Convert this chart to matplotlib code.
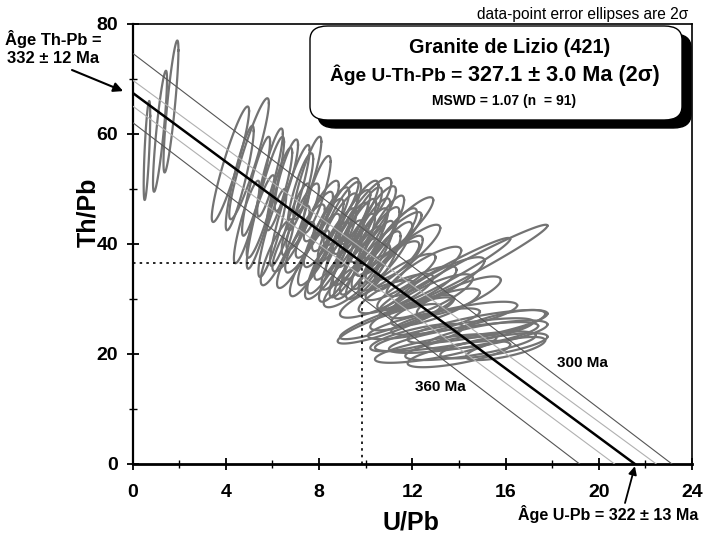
import numpy as np
import matplotlib
matplotlib.use("Agg")
import matplotlib.pyplot as plt
from matplotlib.patches import FancyBboxPatch

plt.rcParams['font.family'] = ['Liberation Sans', 'DejaVu Sans']

# Ellipses d'erreur (2 sigma) : centre U/Pb, centre Th/Pb, demi-largeur, demi-hauteur, correlation
ell_x = [0.62, 1.18, 1.65,
         4.2, 4.6, 5.0, 5.3, 5.7, 5.9, 6.3, 6.75, 6.6, 7.2, 7.5, 7.9, 4.9, 6.0,
         5.5, 7.0, 6.2,
         7.4, 7.8, 8.0, 8.2, 8.4, 8.5, 8.7, 8.8, 9.0, 9.0, 9.2, 9.3, 9.4, 9.5,
         9.6, 9.8, 9.9, 10.0, 10.2, 10.3, 10.5, 10.6, 10.8, 7.0, 7.6, 8.3, 8.9,
         9.6, 10.1, 11.0, 11.2, 8.1, 8.9, 9.7, 10.4, 7.3, 6.8, 11.4, 10.0, 11.6, 9.4,
         11.0, 11.5, 11.8, 12.2, 12.5, 11.3, 12.8, 13.2, 14.2, 13.4, 11.0, 10.5,
         13.0, 14.0, 12.0,
         13.8, 14.2, 14.8, 13.0, 14.5, 15.2, 15.5, 12.5, 13.8, 14.0, 11.0, 11.3,
         12.2, 15.8, 16.0]
ell_y = [57.0, 60.5, 65.0,
         54.5, 52.0, 55.5, 50.5, 47.5, 53.0, 50.0, 47.0, 52.5, 49.5, 52.0, 49.0, 44.0, 42.0,
         45.0, 44.5, 38.5,
         41.0, 43.5, 39.0, 42.0, 37.5, 44.5, 40.0, 43.0, 38.0, 45.5, 41.0, 36.5, 44.0, 39.0,
         42.0, 37.0, 44.5, 40.0, 42.5, 38.0, 40.5, 36.5, 43.0, 38.0, 36.5, 35.5, 35.0,
         35.5, 35.0, 38.5, 41.0, 46.0, 46.5, 46.0, 45.0, 45.0, 41.0, 36.5, 46.0, 43.0, 33.0,
         36.0, 34.0, 38.5, 32.0, 35.0, 31.0, 30.5, 33.0, 35.3, 34.5, 40.0, 30.0,
         28.5, 30.5, 27.5,
         23.5, 23.0, 25.0, 21.0, 21.5, 23.5, 21.5, 25.5, 26.5, 20.0, 25.5, 26.5,
         23.0, 25.5, 21.0]
ell_sx = [0.14, 0.30, 0.32,
          0.80, 0.60, 0.85, 0.60, 0.80, 0.55, 0.55, 0.85, 0.50, 0.55, 0.60, 0.60, 0.55, 0.60,
          0.60, 0.60, 0.70,
          0.85, 0.80, 0.90, 0.85, 0.90, 0.80, 0.90, 0.85, 0.90, 0.80, 0.90, 0.85, 0.80, 0.90,
          0.85, 0.90, 0.80, 0.95, 0.85, 0.90, 0.95, 0.90, 0.85, 0.80, 0.85, 0.90, 0.90,
          0.95, 0.95, 1.00, 1.00, 0.75, 0.80, 0.85, 0.90, 0.70, 0.80, 1.05, 1.10, 1.30, 1.20,
          1.30, 1.50, 1.40, 1.70, 1.60, 1.60, 1.80, 1.90, 3.60, 2.80, 1.40, 1.60,
          1.90, 1.80, 1.80,
          3.40, 3.20, 3.00, 2.60, 2.80, 2.60, 2.30, 2.40, 2.70, 2.20, 2.20, 2.40,
          2.00, 1.90, 1.70]
ell_sy = [9.0, 11.0, 12.0,
          10.5, 9.5, 11.0, 9.0, 12.0, 8.0, 7.5, 11.0, 6.5, 7.0, 7.5, 7.0, 7.5, 8.0,
          7.5, 6.5, 6.0,
          6.2, 6.0, 6.5, 6.2, 6.5, 5.8, 6.5, 6.2, 6.3, 5.8, 6.5, 6.2, 5.8, 6.5,
          6.2, 6.2, 5.8, 6.5, 5.8, 6.2, 6.2, 5.8, 5.8, 6.0, 6.0, 5.5, 5.5,
          5.5, 5.0, 5.5, 5.5, 5.5, 5.5, 5.5, 5.5, 6.0, 6.0, 5.0, 6.0, 5.5, 4.5,
          4.5, 4.2, 5.0, 4.0, 4.5, 3.6, 4.0, 4.6, 8.2, 6.6, 5.8, 3.4,
          3.4, 3.6, 3.2,
          3.0, 2.8, 3.0, 2.6, 2.6, 2.6, 2.3, 2.8, 3.0, 2.4, 3.6, 3.8,
          2.5, 2.5, 2.1]
ell_rho = [0.70, 0.85, 0.85,
           0.92, 0.90, 0.92, 0.90, 0.92, 0.88, 0.88, 0.92, 0.85, 0.85, 0.88, 0.85, 0.88, 0.88,
           0.88, 0.86, 0.85,
           0.86, 0.86, 0.87, 0.86, 0.87, 0.85, 0.87, 0.86, 0.86, 0.85, 0.87, 0.86, 0.85, 0.87,
           0.86, 0.86, 0.85, 0.87, 0.85, 0.86, 0.86, 0.85, 0.86, 0.86, 0.86, 0.85, 0.85,
           0.85, 0.84, 0.86, 0.86, 0.85, 0.85, 0.85, 0.86, 0.86, 0.86, 0.85, 0.86, 0.90, 0.82,
           0.85, 0.85, 0.88, 0.82, 0.85, 0.80, 0.82, 0.86, 0.98, 0.97, 0.90, 0.80,
           0.80, 0.82, 0.80,
           0.78, 0.75, 0.78, 0.75, 0.72, 0.72, 0.72, 0.78, 0.78, 0.70, 0.88, 0.90,
           0.75, 0.72, 0.70]

# Droites d'age : intercept Th/Pb (U/Pb = 0) et intercept U/Pb (Th/Pb = 0)
age_line_thpb = 67.5
age_line_upb = 21.55
iso_300_ma = (74.7, 23.14)
iso_360_ma = (62.1, 19.18)
env_haut = (69.8, 22.47)
env_bas = (65.1, 20.68)

# Point moyen sur la droite
centroid_upb = 9.86
centroid_thpb = 36.6

fig = plt.figure(figsize=(7.09, 5.45), dpi=100)
ax = fig.add_axes([132.5 / 709, 1 - 464 / 545, (692 - 132.5) / 709, (464 - 24) / 545])

t = np.linspace(0, 2 * np.pi, 120)
for cx, cy, sx, sy, r in zip(ell_x, ell_y, ell_sx, ell_sy, ell_rho):
    ex = cx + sx * np.cos(t)
    ey = cy + sy * (r * np.cos(t) + np.sqrt(1 - r ** 2) * np.sin(t))
    ax.plot(ex, ey, color='#737373', lw=1.6, zorder=2)

def droite(inter, col, lw):
    ax.plot([0, inter[1]], [inter[0], 0], color=col, lw=lw, zorder=3)

droite(iso_300_ma, '#555555', 0.8)
droite(iso_360_ma, '#555555', 0.8)
droite(env_haut, '#b0b0b0', 0.8)
droite(env_bas, '#b0b0b0', 0.8)
droite((age_line_thpb, age_line_upb), 'black', 1.8)

ax.plot([0, centroid_upb], [centroid_thpb, centroid_thpb], color='black', lw=1.2,
        ls=(0, (1.5, 2.5)), zorder=3)
ax.plot([centroid_upb, centroid_upb], [0, centroid_thpb], color='black', lw=1.2,
        ls=(0, (1.5, 2.5)), zorder=3)

ax.text(19.3, 18.4, '300 Ma', fontsize=11, fontweight='bold', ha='center', va='center')
ax.text(13.2, 14.0, '360 Ma', fontsize=11, fontweight='bold', ha='center', va='center')

ax.set_xlim(0, 24)
ax.set_ylim(0, 80)
ax.set_xticks(np.arange(0, 25, 4))
ax.set_xticks(np.arange(0, 25, 2), minor=True)
ax.set_yticks(np.arange(0, 81, 20))
ax.set_yticks(np.arange(0, 81, 10), minor=True)
ax.tick_params(which='major', direction='inout', length=9, width=1.3, labelsize=14, pad=6)
ax.tick_params(axis='x', which='major', pad=10)
ax.tick_params(which='minor', direction='inout', length=6, width=1.0)
for lab in ax.get_xticklabels() + ax.get_yticklabels():
    lab.set_fontweight('bold')
for s in ax.spines.values():
    s.set_linewidth(1.2)
ax.spines['bottom'].set_linewidth(2.0)
ax.spines['left'].set_linewidth(1.6)

ax.set_xlabel('U/Pb', fontsize=18, fontweight='bold')
ax.set_ylabel('Th/Pb', fontsize=18, fontweight='bold')
ax.xaxis.set_label_coords(0.497, -0.105)
ax.yaxis.set_label_coords(-0.058, 0.573)

# Cartouche avec ombre
def fx(px):
    return px / 709

def fy(py):
    return 1 - py / 545

shadow = FancyBboxPatch((fx(318), fy(128)), fx(691) - fx(318), fy(34) - fy(128),
                        boxstyle='round,pad=0,rounding_size=0.025', transform=fig.transFigure,
                        facecolor='black', edgecolor='black', zorder=5)
box = FancyBboxPatch((fx(310), fy(120)), fx(682) - fx(310), fy(26) - fy(120),
                     boxstyle='round,pad=0,rounding_size=0.025', transform=fig.transFigure,
                     facecolor='white', edgecolor='black', lw=1.0, zorder=6)
fig.patches.extend([shadow, box])

fig.text(fx(510), fy(47), 'Granite de Lizio (421)', fontsize=14.3, fontweight='bold',
         ha='center', va='center', zorder=7)
fig.text(fx(468), fy(75), 'Âge U-Th-Pb = ', fontsize=13.8, fontweight='bold',
         ha='right', va='center', zorder=7)
fig.text(fx(468), fy(75), '327.1 ± 3.0 Ma (2σ)', fontsize=15.6, fontweight='bold',
         ha='left', va='center', zorder=7)
fig.text(fx(504), fy(101), 'MSWD = 1.07 (n  = 91)', fontsize=10, fontweight='bold',
         ha='center', va='center', zorder=7)

fig.text(fx(688), fy(14), 'data-point error ellipses are 2σ', fontsize=11.2,
         ha='right', va='center')

# Intercepts annotes
fig.text(fx(53), fy(48), 'Âge Th-Pb =\n332 ± 12 Ma', fontsize=11.9, fontweight='bold',
         ha='center', va='center', linespacing=1.25)
ax.annotate('', xy=(-0.4, 67.8), xycoords='data',
            xytext=(fx(72), fy(70)), textcoords='figure fraction',
            arrowprops=dict(arrowstyle='-|>', color='black', lw=1.5,
                            shrinkA=0, shrinkB=0, mutation_scale=14),
            annotation_clip=False)
ax.annotate('', xy=(age_line_upb, -0.4), xycoords='data',
            xytext=(fx(625), fy(503)), textcoords='figure fraction',
            arrowprops=dict(arrowstyle='-|>', color='black', lw=1.3,
                            shrinkA=0, shrinkB=0, mutation_scale=12),
            annotation_clip=False)
fig.text(fx(608), fy(514), 'Âge U-Pb = 322 ± 13 Ma', fontsize=11.6, fontweight='bold',
         ha='center', va='center')

fig.savefig('out.png', dpi=100)
